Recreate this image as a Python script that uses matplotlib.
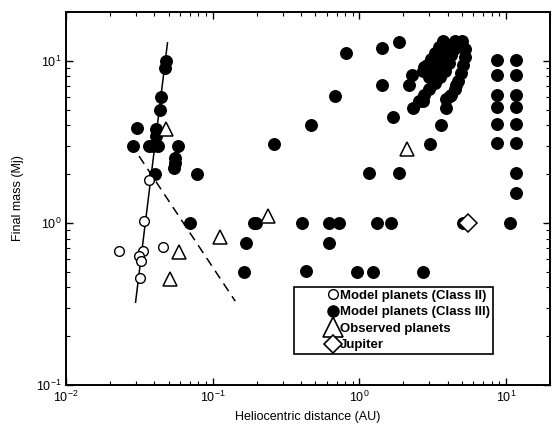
import matplotlib
matplotlib.use("Agg")
import matplotlib.pyplot as plt
from matplotlib.lines import Line2D
from matplotlib.legend_handler import HandlerLine2D

plt.rcParams["font.family"] = ["Liberation Sans", "DejaVu Sans"]
plt.rcParams["mathtext.default"] = "regular"

# Model planets, class II (open circles)
class2_x = [0.0230, 0.0338, 0.0333, 0.0315, 0.0327, 0.0322, 0.0459, 0.0369]
class2_y = [0.673, 1.03, 0.673, 0.626, 0.583, 0.460, 0.706, 1.85]

# Model planets, class III (filled circles)
class3_x = [0.0484, 0.0474, 0.0441, 0.0437, 0.0303, 0.0414, 0.0408, 0.0287, 0.0369, 0.0395,
            0.0424, 0.0580, 0.0558, 0.0553, 0.0546, 0.0781, 0.0403, 0.0698,
            0.190, 0.198, 0.170, 0.163, 0.406, 0.618, 0.723, 0.626, 1.33, 1.64, 5.10, 10.6,
            0.435, 0.960, 1.245, 2.70,
            0.264, 0.469, 0.687, 0.811, 1.43, 1.87, 1.43, 1.17, 1.87, 1.69, 2.31, 3.03,
            3.60, 3.89, 4.14, 4.59, 2.19, 2.28, 2.70, 2.77,
            2.56, 2.77, 2.99, 3.29, 3.56, 3.85, 4.09, 4.23, 4.09, 3.73, 3.50, 3.29, 3.09,
            2.90, 2.72, 3.50, 3.79, 3.23, 2.99, 5.02, 5.26, 5.26, 5.10, 4.94, 4.71, 4.50,
            4.23, 3.91, 4.50, 4.80, 4.00, 3.60, 3.20, 4.40,
            8.73, 8.73, 8.73, 8.73, 8.73, 8.73,
            11.75, 11.75, 11.75, 11.75, 11.75, 11.75, 11.75, 11.75]
class3_y = [10.0, 9.0, 5.95, 4.98, 3.87, 3.78, 3.44, 3.0, 3.0, 3.0,
            3.0, 3.0, 2.52, 2.35, 2.19, 1.99, 1.99, 1.0,
            1.0, 1.0, 0.748, 0.499, 1.0, 1.0, 1.0, 0.755, 1.0, 1.0, 1.0, 1.0,
            0.503, 0.50, 0.50, 0.50,
            3.05, 4.0, 6.09, 11.2, 12.0, 13.1, 7.1, 2.04, 2.04, 4.53, 5.08, 3.05,
            4.0, 5.08, 6.09, 7.1, 7.1, 8.19, 5.67, 9.14,
            5.65, 6.15, 6.70, 7.30, 7.96, 8.67, 9.72, 10.9, 12.6, 13.3, 12.2, 11.2, 10.3,
            9.44, 8.67, 10.0, 11.1, 8.9, 7.96, 13.3, 11.9, 10.6, 9.44, 8.42, 7.5, 6.7,
            6.15, 5.81, 13.3, 12.5, 11.5, 9.0, 9.6, 11.8,
            10.1, 8.19, 6.15, 5.21, 4.06, 3.10,
            10.1, 8.19, 6.15, 5.21, 4.06, 3.10, 2.04, 1.53]

# Observed planets and Jupiter
obs_x = [0.0479, 0.0590, 0.0509, 0.1115, 0.238, 2.13]
obs_y = [3.78, 0.663, 0.453, 0.822, 1.105, 2.84]
jup_x = [5.5]
jup_y = [1.0]

# guide lines
solid_x = [0.0492, 0.0298]
solid_y = [12.9, 0.324]
dash_x = [0.0315, 0.1426]
dash_y = [2.58, 0.329]

fig = plt.figure(figsize=(5.53, 4.25), dpi=100)
ax = fig.add_axes([0.1194, 0.0941, 0.8752, 0.8777])

ax.plot(solid_x, solid_y, color="black", lw=1.1)
ax.plot(dash_x, dash_y, color="black", lw=1.1, dashes=(6, 4))
ax.plot(class3_x, class3_y, "o", color="black", ms=8.3)
ax.plot(class2_x, class2_y, "o", mfc="white", mec="black", mew=1.0, ms=7)
ax.plot(obs_x, obs_y, "^", mfc="white", mec="black", mew=1.1, ms=10.5)
ax.plot(jup_x, jup_y, "D", mfc="white", mec="black", mew=1.1, ms=9)

ax.set_xscale("log")
ax.set_yscale("log")
ax.set_xlim(0.01, 20)
ax.set_ylim(0.1, 20)
ax.set_xticks([0.01, 0.1, 1, 10])
ax.set_xticklabels(["$10^{-2}$", "$10^{-1}$", "$10^{0}$", "$10^{1}$"])
ax.set_yticks([0.1, 1, 10])
ax.set_yticklabels(["$10^{-1}$", "$10^{0}$", "$10^{1}$"])
ax.tick_params(which="both", direction="in", top=True, right=True, labelsize=9)
ax.tick_params(which="major", length=5, width=1)
ax.tick_params(which="minor", length=3, width=0.8)
for s in ax.spines.values():
    s.set_linewidth(1.4)

ax.set_xlabel("Heliocentric distance (AU)", fontsize=9)
ax.set_ylabel("Final mass (Mj)", fontsize=9, labelpad=8)

# legend keys
keys = [
    Line2D([], [], ls="none", marker="o", mfc="white", mec="black", mew=1.0, ms=7),
    Line2D([], [], ls="none", marker="o", color="black", ms=8),
    Line2D([], [], ls="none", marker="^", mfc="white", mec="black", mew=1.2, ms=14),
    Line2D([], [], ls="none", marker="D", mfc="white", mec="black", mew=1.2, ms=9),
]
names = ["Model planets (Class II)", "Model planets (Class III)",
         "Observed planets", "Jupiter"]
leg = ax.legend(keys, names, loc="lower left", bbox_to_anchor=(0.471, 0.083),
                fancybox=False, framealpha=1, edgecolor="black",
                borderpad=0.2, labelspacing=0.33, handlelength=3.09,
                handletextpad=0.2, borderaxespad=0,
                handler_map={Line2D: HandlerLine2D(xpad=2.43)},
                prop={"size": 9.5, "weight": "bold"})
leg.get_frame().set_linewidth(1.2)

fig.savefig("out.png", dpi=100)
